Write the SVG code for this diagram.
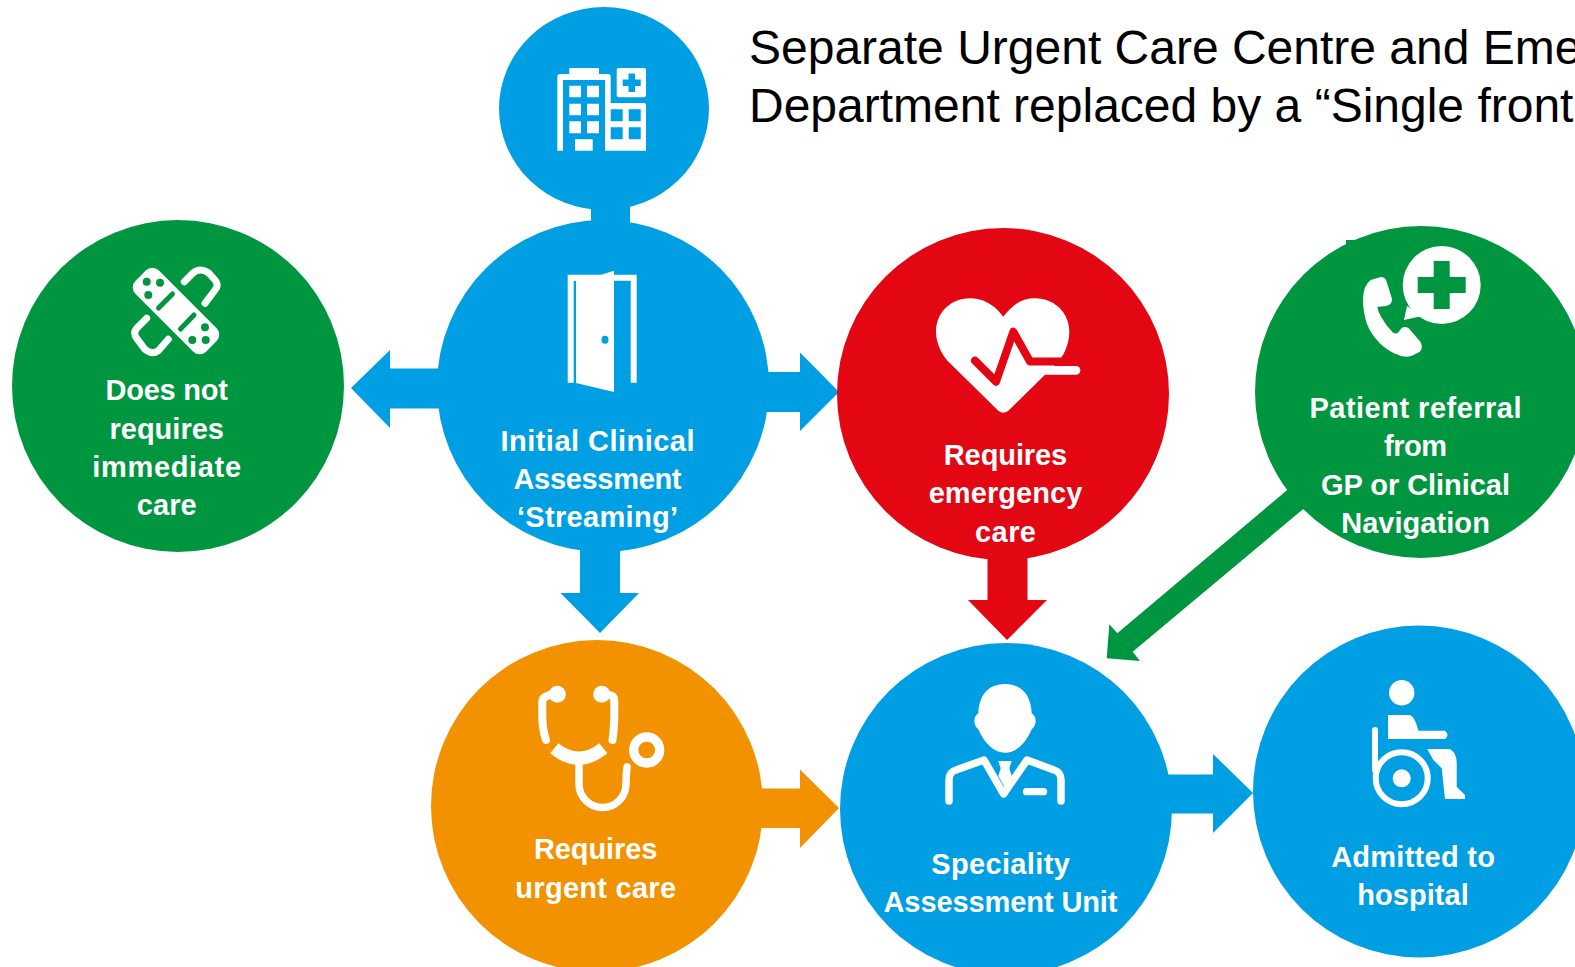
<svg xmlns="http://www.w3.org/2000/svg" width="1575" height="967" viewBox="0 0 1575 967">
<style>
.blue{fill:#009fe3}.green{fill:#009640}.red{fill:#e30613}.orange{fill:#f39200}
.w{fill:#fff}
.s{fill:none;stroke:#fff;stroke-linecap:round;stroke-linejoin:round}
.label{font-family:"Liberation Sans",Arial,sans-serif;font-weight:700;font-size:29px;fill:#fff;text-anchor:middle}
.title{font-family:"Liberation Sans",Arial,sans-serif;font-size:48px;fill:#000}
</style>
<rect width="1575" height="967" fill="#fff"/>
<g id="connectors">
<rect class="blue" x="591" y="200" width="39" height="27"/>
<polygon class="blue" points="351,388 390,350 390,368.500 445,368.500 445,408.500 390,408.500 390,428"/>
<polygon class="blue" points="839,392 800,352.500 800,372 760,372 760,412 800,412 800,431"/>
<polygon class="blue" points="600,633 560.500,593 580,593 580,545 620,545 620,593 639,593"/>
<polygon class="red" points="1007,640 968,600 987.500,600 987.500,550 1027.500,550 1027.500,600 1047,600"/>
<polygon class="orange" points="839,808 800,769.500 800,788.500 755,788.500 755,828 800,828 800,848"/>
<polygon class="blue" points="1253,793 1213,754 1213,774.500 1160,774.500 1160,813.500 1213,813.500 1213,833"/>
<polygon class="green" points="1106.700,658.300 1109.300,624.300 1117.300,633.300 1292,486 1308,505 1132.700,651.700 1140,661"/>
</g>
<g id="title">
<text class="title" x="749" y="64">Separate Urgent Care Centre and Eme</text>
<text class="title" x="749" y="121.500">Department replaced by a “Single front</text>
</g>
<g id="node-hospital">
<ellipse class="blue" cx="604" cy="108.500" rx="105" ry="101.500"/>
<path class="w" fill-rule="evenodd" d="M569.300,68H599V74H608Q610.700,74 610.700,77V103H644Q646,103 646,105V150.700H605V80H563V150.700H557.300V77Q557.300,74 560,74H569.300ZM610.700,109.300V121.300H622.700V109.300ZM628.700,109.300V121.300H640.700V109.300ZM610.700,127.300V139.300H622.700V127.300ZM628.700,127.300V139.300H640.700V127.300Z"/>
<path class="w" d="M569.300,85.700H581V97.300H569.300ZM587,85.700H599V97.300H587ZM569.300,103.700H581V115.300H569.300ZM587,103.700H599V115.300H587ZM569.300,121.300H581V133.300H569.300ZM587,121.300H599V133.300H587ZM575,139.300H592.700V150.700H575Z"/>
<path class="w" fill-rule="evenodd" d="M618.700,68H644Q646,68 646,70V95.300Q646,97.300 644,97.300H618.700Q616.700,97.300 616.700,95.300V70Q616.700,68 618.700,68ZM628.500,73.500V79.500H622.700V86H628.500V92H635V86H640.700V79.500H635V73.500Z"/>
</g>
<g id="node-streaming">
<circle class="blue" cx="603" cy="386" r="166"/>
<path class="w" fill-rule="evenodd" d="M567.700,274.700H601L614,270.700V274.700H636.700V382.700H630.700V280.700H614V392L576,383V281H573.700V382.700H567.700Z"/>
<ellipse class="blue" cx="605" cy="339.700" rx="3.500" ry="4"/>
<text class="label" x="597.500" y="451" textLength="194">Initial Clinical</text>
<text class="label" x="597.500" y="489" textLength="168">Assessment</text>
<text class="label" x="597.500" y="527" textLength="161">‘Streaming’</text>
</g>
<g id="node-no-care">
<circle class="green" cx="178" cy="386" r="166"/>
<path class="s" stroke-width="7" d="M184.300,281.700L193.300,272.700Q200,267.300 208.300,272.700L215,280Q219.300,285 215,290L205,303.300"/>
<path class="s" stroke-width="7" d="M146.700,318.300L136.700,328.300Q132.700,333.300 136.700,338.300L145,349.300Q151.700,355 158.300,350.700L168.300,339.300"/>
<rect class="w" x="126" y="294.500" width="100" height="33" rx="9" transform="rotate(45 176 311)"/>
<g class="green"><circle cx="146.700" cy="281.700" r="4"/><circle cx="160" cy="282.700" r="4"/><circle cx="148.300" cy="295" r="4"/><circle cx="205" cy="327.300" r="4"/><circle cx="192.300" cy="340" r="4"/><circle cx="205.700" cy="340" r="4"/></g>
<path fill="none" stroke="#009640" stroke-width="5" stroke-linecap="round" d="M158.500,308L172.500,294M180.500,329L194,315"/>
<text class="label" x="166.700" y="400" textLength="122.500">Does not</text>
<text class="label" x="166.700" y="439" textLength="114.500">requires</text>
<text class="label" x="166.700" y="477" textLength="148.700">immediate</text>
<text class="label" x="166.700" y="515" textLength="60">care</text>
</g>
<g id="node-emergency">
<circle class="red" cx="1003" cy="394" r="166"/>
<path class="w" d="M1003.300,316.700C993.300,303.300 981.700,298.300 970,298.300C950,298.300 936,313.300 936,331.700C936,345 943.300,356.700 950,363.300L998.300,410.700Q1003.300,415 1008.300,410.700L1056.700,363.300C1063.300,356.700 1069.300,345 1069.300,331.700C1069.300,313.300 1055,298.300 1035,298.300C1023,298.300 1013.300,303.300 1003.300,316.700Z"/>
<path fill="none" stroke="#e30613" stroke-width="8" stroke-linecap="round" stroke-linejoin="round" d="M975,360.700L996,381.700L1013.300,331.700L1030,361.500H1085"/>
<line class="s" x1="1030" y1="370.300" x2="1076" y2="370.300" stroke-width="8.700"/>
<text class="label" x="1005.500" y="465" textLength="123.500">Requires</text>
<text class="label" x="1005.500" y="503" textLength="153.700">emergency</text>
<text class="label" x="1005.500" y="542" textLength="61">care</text>
</g>
<g id="node-referral">
<circle class="green" cx="1421" cy="392" r="166"/>
<rect class="green" x="1346" y="240" width="9" height="7"/>
<circle class="w" cx="1441.700" cy="285" r="39"/>
<polygon class="w" points="1407,306 1404,320 1422,316"/>
<path class="green" d="M1433.700,261H1449.700V277H1465.700V293H1449.700V309H1433.700V293H1417.700V277H1433.700Z"/>
<path class="w" stroke="#fff" stroke-width="2" stroke-linejoin="round" d="M1364,300Q1364,286 1371,281L1381,278Q1385,278 1386,283L1391,299Q1391,304 1386,305L1376,306Q1377,312 1380,317Q1385,326 1392,333Q1396,336 1399,333L1402,329Q1405,327 1408,329L1420,343Q1422,348 1419,351L1411,355Q1403,357 1396,353Q1387,349 1380,342Q1372,334 1368,324Q1364,312 1364,300Z"/>
<text class="label" x="1415.500" y="418" textLength="212">Patient referral</text>
<text class="label" x="1415.500" y="456" textLength="63">from</text>
<text class="label" x="1415.500" y="495" textLength="189">GP or Clinical</text>
<text class="label" x="1415.500" y="533" textLength="148.700">Navigation</text>
</g>
<g id="node-urgent">
<circle class="orange" cx="597" cy="806" r="166"/>
<circle class="w" cx="557.300" cy="694.300" r="8.500"/>
<circle class="w" cx="601.700" cy="694.300" r="8.500"/>
<path class="s" stroke-width="8" d="M552,694L546,696.500Q542.300,698 542.300,702V716.700Q542.500,730 546,740"/>
<path class="s" stroke-width="8" d="M607,694L613,696.500Q614.300,698 614.300,702V716.700Q614,730 612.500,740"/>
<path fill="none" stroke="#fff" stroke-width="13" d="M554.300,748.300Q578.500,768.300 603.300,748.300"/>
<path class="s" stroke-width="7.500" d="M579,760V784A23.500,23.500 0 0 0 626,784Q626,776 627,767"/>
<circle fill="none" stroke="#fff" stroke-width="9.300" cx="646.700" cy="750" r="13"/>
<text class="label" x="595.700" y="859" textLength="123.500">Requires</text>
<text class="label" x="595.700" y="898" textLength="160.700">urgent care</text>
</g>
<g id="node-speciality">
<circle class="blue" cx="1006" cy="809" r="166"/>
<path class="w" d="M1005,684C988.300,684 979,695 978.300,713.300C973,716.700 973,725 978.300,729.300C985,745 995,752.700 1005,752.700C1015,752.700 1025,745 1031.700,729.300C1037,725 1037,716.700 1031.700,713.300C1031,695 1021.700,684 1005,684Z"/>
<path class="s" stroke-width="7.500" d="M949,801V780Q949,772 956,770L984,760L1003.500,794L1027,760L1054,770Q1061,772 1061,780V801"/>
<polygon class="w" points="998.300,761 1011.700,761 1009.300,768.300 1011.700,776 1005,788 998.300,776 1000.700,768.300"/>
<line class="s" x1="1026.500" y1="791.700" x2="1043.500" y2="791.700" stroke-width="7.300"/>
<text class="label" x="1000.500" y="874" textLength="138.600">Speciality</text>
<text class="label" x="1000.500" y="912" textLength="234">Assessment Unit</text>
</g>
<g id="node-admitted">
<circle class="blue" cx="1419" cy="791.500" r="166"/>
<circle class="w" cx="1401.700" cy="692.700" r="12.700"/>
<path class="w" d="M1388,715H1410Q1415,717 1418.300,730.700H1445Q1450,735 1445,739H1388Z"/>
<path class="s" stroke-width="6" d="M1375,730V770"/>
<circle fill="none" stroke="#fff" stroke-width="6" cx="1401.700" cy="778.300" r="26"/>
<circle class="w" cx="1401.700" cy="778.300" r="9"/>
<path class="w" d="M1427.300,749H1450Q1456.700,753.300 1456.700,763.300V786.700L1465,795V799H1445L1441.700,768.300L1433.300,760Z"/>
<text class="label" x="1413" y="867" textLength="163.700">Admitted to</text>
<text class="label" x="1413" y="905" textLength="111.500">hospital</text>
</g>
</svg>
